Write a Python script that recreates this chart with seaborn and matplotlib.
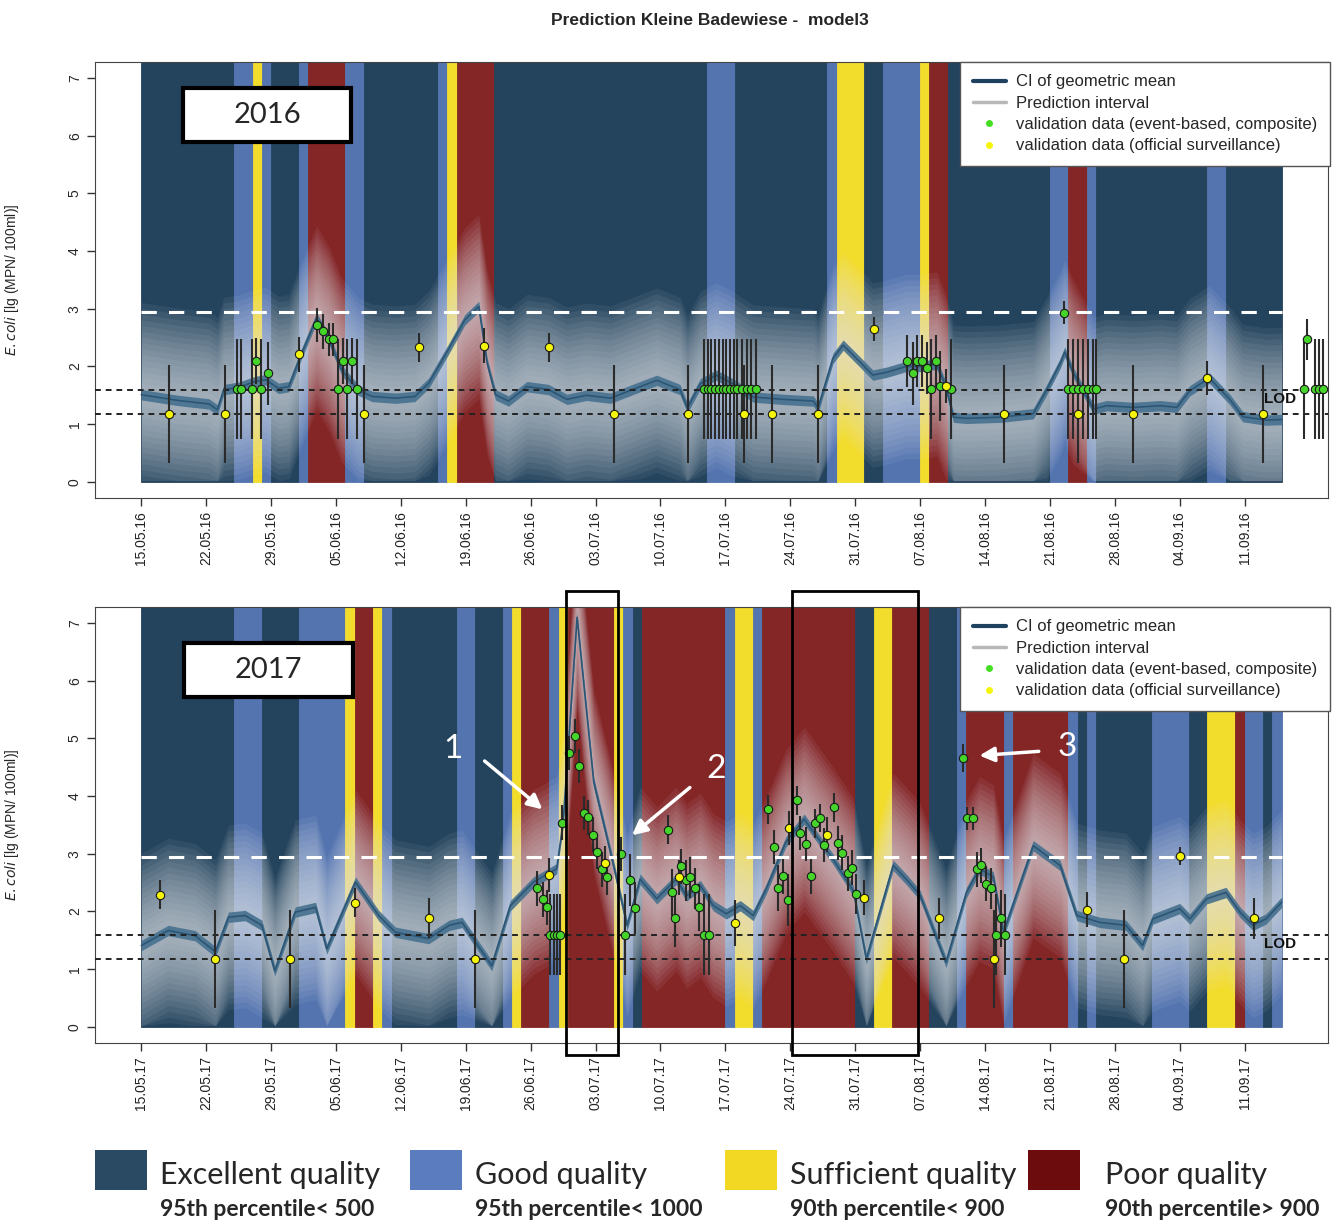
import numpy as np
import pandas as pd
import matplotlib
matplotlib.use("Agg")
import matplotlib.pyplot as plt
import seaborn as sns
from matplotlib.lines import Line2D
from matplotlib.patches import Rectangle

# ---------------- data (days counted from 15.05.) ----------------
# quality bands: start day of each run + class, last run ends at band_end
band_end = 123
band_start_2016 = [0, 10, 12, 13, 14, 17, 18, 22, 24, 32, 33, 34, 38, 61, 64, 74, 75, 78, 80, 84,
                   85, 87, 98, 100, 102, 103, 115, 117]
band_class_2016 = ["E", "G", "S", "G", "E", "G", "P", "G", "E", "G", "S", "P", "E", "G", "E", "G",
                   "S", "E", "G", "S", "P", "E", "G", "P", "G", "E", "G", "E"]
band_start_2017 = [0, 10, 13, 17, 22, 23, 25, 26, 27, 34, 36, 39, 40, 41, 44, 45, 46, 51, 52, 53,
                   54, 63, 64, 66, 67, 77, 79, 81, 85, 88, 89, 93, 94, 100, 101, 102, 103, 109,
                   113, 115, 118, 119, 121, 122]
band_class_2017 = ["E", "G", "E", "G", "S", "P", "S", "G", "E", "G", "E", "G", "S", "P", "G", "S",
                   "P", "S", "G", "E", "P", "G", "S", "G", "P", "E", "S", "P", "E", "G", "P", "G",
                   "P", "G", "E", "G", "E", "G", "E", "S", "P", "G", "E", "G"]

# geometric mean of the prediction (lg units)
mean_day_2016 = [0, 4, 7.3, 8.2, 8.9, 10.5, 12.3, 13.4, 14.8, 15.9, 17.3, 18.9, 20.2, 21.6, 23.4,
                 24.9, 27.4, 29.5, 31.0, 33.1, 34.9, 36.4, 37.3, 38.2, 39.6, 41.6, 43.9, 45.9, 48.0,
                 50.6, 53.8, 55.6, 58.1, 58.9, 60.3, 62.0, 63.8, 66.0, 69.2, 72.5, 73.0, 74.6, 75.7,
                 77.5, 78.9, 80.4, 82.5, 84.0, 85.8, 86.8, 87.6, 89.0, 92.6, 96.2, 97.6, 99.1, 99.6,
                 100.5, 102.7, 104.1, 107.0, 109.9, 111.7, 113.1, 115.2, 117.4, 118.8, 121.3, 123.0]
mean_val_2016 = [1.51, 1.41, 1.35, 1.25, 1.60, 1.64, 1.74, 1.77, 1.62, 1.65, 2.23, 2.84, 2.49, 1.94,
                 1.59, 1.48, 1.45, 1.48, 1.71, 2.29, 2.81, 3.04, 2.06, 1.51, 1.40, 1.65, 1.60, 1.43,
                 1.50, 1.45, 1.65, 1.76, 1.60, 1.28, 1.70, 1.85, 1.70, 1.47, 1.43, 1.40, 1.28, 2.14,
                 2.37, 2.08, 1.85, 1.90, 2.00, 2.00, 2.04, 1.64, 1.12, 1.10, 1.12, 1.18, 1.58, 2.05,
                 2.25, 1.90, 1.26, 1.32, 1.29, 1.32, 1.29, 1.58, 1.80, 1.43, 1.13, 1.07, 1.08]
mean_day_2017 = [0, 2.9, 5.8, 8.0, 9.4, 11.2, 13.0, 14.4, 16.6, 18.8, 20.0, 23.1, 25.6, 27.4, 31.0,
                 33.2, 34.6, 37.8, 39.8, 42.3, 44.8, 45.5, 47.0, 48.8, 50.6, 52.4, 53.8, 55.6, 57.7,
                 58.8, 60.3, 61.7, 63.1, 64.6, 66.0, 67.4, 69.5, 71.5, 74.6, 76.8, 78.2, 81.1, 82.5,
                 84.0, 86.8, 89.0, 90.4, 91.9, 93.0, 96.2, 99.1, 100.9, 103.4, 106.2, 108.0, 109.1,
                 112.0, 113.1, 114.9, 117.0, 118.5, 119.9, 121.3, 123.0]
mean_val_2017 = [1.41, 1.67, 1.58, 1.30, 1.90, 1.93, 1.76, 0.97, 1.99, 2.07, 1.35, 2.51, 1.93, 1.64,
                 1.53, 1.76, 1.81, 1.06, 2.10, 2.51, 2.74, 3.55, 7.10, 4.24, 3.03, 1.76, 2.56, 2.22,
                 2.56, 2.27, 2.45, 2.10, 1.96, 2.10, 1.93, 2.39, 3.20, 3.60, 2.91, 2.36, 1.18, 2.80,
                 2.56, 2.28, 1.12, 2.33, 2.74, 2.60, 1.64, 3.14, 2.80, 1.93, 1.81, 1.76, 1.41, 1.87,
                 2.05, 1.87, 2.22, 2.33, 1.99, 1.76, 1.87, 2.16]

# validation data (event-based, composite)
green_day_2016 = [10.3, 10.7, 11.9, 12.4, 12.9, 13.7, 18.9, 19.65, 20.2, 20.7, 21.2, 21.7, 22.2, 22.7,
                  23.3, 60.7, 61.1, 61.5, 61.9, 62.3, 62.7, 63.1, 63.5, 63.9, 64.3, 64.8, 65.3, 65.8,
                  66.3, 82.6, 83.25, 83.7, 84.2, 84.7, 85.2, 85.7, 86.2, 87.3, 99.5, 99.96, 100.5,
                  101.0, 101.6, 102.1, 102.6, 103.0, 125.4, 125.7, 126.6, 127.0, 127.5]
green_val_2016 = [1.61, 1.61, 1.61, 2.09, 1.61, 1.88, 2.72, 2.61, 2.47, 2.47, 1.61, 2.09, 1.61, 2.09,
                  1.61, 1.61, 1.61, 1.61, 1.61, 1.61, 1.61, 1.61, 1.61, 1.61, 1.61, 1.61, 1.61, 1.61,
                  1.61, 2.09, 1.88, 2.09, 2.09, 1.97, 1.61, 2.10, 1.66, 1.61, 2.93, 1.61, 1.61, 1.61,
                  1.61, 1.61, 1.61, 1.61, 1.61, 2.47, 1.61, 1.61, 1.61]
green_err_2016 = [0.87, 0.87, 0.87, 0.40, 0.87, 0.55, 0.30, 0.30, 0.28, 0.28, 0.87, 0.40, 0.87, 0.40,
                  0.87, 0.87, 0.87, 0.87, 0.87, 0.87, 0.87, 0.87, 0.87, 0.87, 0.87, 0.87, 0.87, 0.87,
                  0.87, 0.45, 0.55, 0.45, 0.45, 0.45, 0.87, 0.45, 0.60, 0.87, 0.20, 0.87, 0.87, 0.87,
                  0.87, 0.87, 0.87, 0.87, 0.87, 0.35, 0.87, 0.87, 0.87]
green_day_2017 = [42.65, 43.3, 43.8, 44.1, 44.5, 44.8, 45.2, 45.4, 46.1, 46.8, 47.2, 47.7, 48.2, 48.7,
                  49.2, 49.7, 50.2, 51.7, 52.2, 52.7, 53.2, 56.8, 57.2, 57.6, 58.2, 58.7, 59.2, 59.7,
                  60.2, 60.7, 61.2, 67.6, 68.2, 68.7, 69.2, 69.8, 70.7, 71.1, 71.7, 72.2, 72.7, 73.2,
                  73.6, 74.7, 75.2, 75.6, 76.2, 76.7, 77.1, 88.6, 89.1, 89.7, 90.1, 90.6, 91.1, 91.7,
                  92.2, 92.7, 93.2]
green_val_2017 = [2.40, 2.21, 2.07, 1.60, 1.60, 1.60, 1.60, 3.54, 4.75, 5.04, 4.52, 3.71, 3.63, 3.33,
                  3.03, 2.73, 2.59, 3.00, 1.60, 2.54, 2.06, 3.42, 2.33, 1.88, 2.78, 2.54, 2.59, 2.40,
                  2.07, 1.60, 1.60, 3.77, 3.12, 2.40, 2.61, 2.20, 3.93, 3.36, 3.17, 2.61, 3.53, 3.62,
                  3.15, 3.81, 3.19, 3.02, 2.66, 2.76, 2.30, 4.66, 3.62, 3.62, 2.73, 2.80, 2.48, 2.40,
                  1.60, 1.88, 1.60]
green_err_2017 = [0.30, 0.30, 0.30, 0.70, 0.70, 0.70, 0.70, 0.30, 0.30, 0.30, 0.30, 0.30, 0.30, 0.30,
                  0.30, 0.30, 0.30, 0.30, 0.70, 0.45, 0.45, 0.25, 0.40, 0.50, 0.30, 0.35, 0.35, 0.35,
                  0.40, 0.70, 0.70, 0.25, 0.30, 0.40, 0.30, 0.45, 0.25, 0.30, 0.30, 0.30, 0.25, 0.25,
                  0.30, 0.25, 0.30, 0.30, 0.30, 0.30, 0.35, 0.25, 0.20, 0.20, 0.30, 0.30, 0.30, 0.35,
                  0.70, 0.50, 0.70]

# validation data (official surveillance)
yellow_day_2016 = [3, 9, 17, 24, 30, 37, 44, 51, 59, 65, 68, 73, 79, 86.8, 93, 101, 107, 115, 121]
yellow_val_2016 = [1.17, 1.17, 2.21, 1.17, 2.33, 2.36, 2.33, 1.17, 1.17, 1.17, 1.17, 1.17, 2.65, 1.66,
                   1.17, 1.17, 1.17, 1.80, 1.17]
yellow_err_2016 = [0.85, 0.85, 0.30, 0.85, 0.25, 0.30, 0.25, 0.85, 0.85, 0.85, 0.85, 0.85, 0.20, 0.30,
                   0.85, 0.85, 0.85, 0.30, 0.85]
yellow_day_2017 = [2, 8, 16, 23, 31, 36, 44.0, 50.0, 58.0, 64.0, 69.9, 74.0, 78, 86, 92, 102, 106,
                   112, 120]
yellow_val_2017 = [2.29, 1.18, 1.18, 2.15, 1.89, 1.18, 2.63, 2.84, 2.59, 1.80, 3.45, 3.33, 2.24, 1.88,
                   1.17, 2.03, 1.17, 2.96, 1.88]
yellow_err_2017 = [0.25, 0.85, 0.85, 0.25, 0.35, 0.85, 0.30, 0.30, 0.30, 0.40, 0.30, 0.30, 0.30, 0.35,
                   0.85, 0.30, 0.85, 0.15, 0.35]

tick_labels_2016 = ["15.05.16", "22.05.16", "29.05.16", "05.06.16", "12.06.16", "19.06.16", "26.06.16",
                    "03.07.16", "10.07.16", "17.07.16", "24.07.16", "31.07.16", "07.08.16", "14.08.16",
                    "21.08.16", "28.08.16", "04.09.16", "11.09.16"]
tick_labels_2017 = [t[:-2] + "17" for t in tick_labels_2016]

lod_upper, lod_lower = 1.6, 1.18
poor_threshold = 2.95

legend_labels = ["CI of geometric mean", "Prediction interval",
                 "validation data (event-based, composite)",
                 "validation data (official surveillance)"]
quality_names = ["Excellent quality", "Good quality", "Sufficient quality", "Poor quality"]
quality_notes = ["95th percentile< 500", "95th percentile< 1000", "90th percentile< 900",
                 "90th percentile> 900"]

# ---------------- style ----------------
sns.set_style("ticks")
plt.rcParams['font.family'] = ['Liberation Sans', 'DejaVu Sans']

band_colors = {"E": "#24435d", "G": "#5474b0", "S": "#f2dc2c", "P": "#842526"}
legend_colors = ["#2a4a63", "#5b7dbf", "#f3d823", "#6d0c0c"]
YMIN, YMAX = -0.28, 7.28


def draw_panel(ax, starts, classes, mday, mval, gday, gval, gerr, yday, yval, yerr, labels,
               year, box_pos):
    ends = starts[1:] + [band_end]
    widths = [e - s for s, e in zip(starts, ends)]
    ax.bar(starts, YMAX, width=widths, bottom=0, align="edge",
           color=[band_colors[c] for c in classes],
           edgecolor=[band_colors[c] for c in classes], linewidth=0.6, zorder=0)

    mday = np.array(mday)
    mval = np.array(mval)
    # prediction interval: many thin translucent layers -> soft fuzzy band
    for hw in np.arange(1.6, 0.15, -0.1):
        ax.fill_between(mday, np.clip(mval - hw, 0.02, None), mval + hw,
                        color="#e6eaee", alpha=0.07, lw=0, zorder=1)
    # CI of geometric mean
    ax.fill_between(mday, mval - 0.09, mval + 0.09, color="#46718f", alpha=0.9, lw=0, zorder=2)
    sns.lineplot(x=mday, y=mval, ax=ax, color="#2c5676", lw=1.2, zorder=2)

    ax.hlines(poor_threshold, starts[0], band_end, colors="white", linestyles=(0, (5, 4)),
              lw=2.2, zorder=3)
    ax.axhline(lod_upper, color="#222222", ls=(0, (3, 2.5)), lw=1.4, zorder=3)
    ax.axhline(lod_lower, color="#222222", ls=(0, (3, 2.5)), lw=1.4, zorder=3)
    ax.text(band_end - 0.2, (lod_upper + lod_lower) / 2 + 0.05, "LOD", fontsize=11,
            fontweight="bold", color="#111111", ha="center", va="center", zorder=4)

    gday, gval, gerr = map(np.array, (gday, gval, gerr))
    yday, yval, yerr = map(np.array, (yday, yval, yerr))
    ax.vlines(gday, gval - gerr, gval + gerr, color="#2b2b2b", lw=1.5, zorder=4)
    ax.vlines(yday, yval - yerr, yval + yerr, color="#2b2b2b", lw=1.5, zorder=4)
    sns.scatterplot(x=gday, y=gval, ax=ax, color="#45d42a", edgecolor="#1a1a1a", s=36,
                    linewidth=0.8, zorder=5)
    sns.scatterplot(x=yday, y=yval, ax=ax, color="#f5f50a", edgecolor="#1a1a1a", s=36,
                    linewidth=0.8, zorder=5)

    ax.set_xlim(-5, 128)
    ax.set_ylim(YMIN, YMAX)
    ax.set_xticks(np.arange(0, 7 * len(labels), 7))
    ax.set_xticklabels(labels, rotation=90, fontsize=10, color="#222222")
    ax.set_yticks(range(8))
    ax.set_yticklabels([str(i) for i in range(8)], rotation=90, va="center", fontsize=10)
    ax.tick_params(axis="both", length=6, width=1, color="#333333")
    ax.set_xlabel("")
    ax.set_ylabel(r"$\mathit{E.coli}$ [lg (MPN/ 100ml)]", fontsize=10)
    ax.yaxis.set_label_coords(-0.06, 0.5)
    for sp in ax.spines.values():
        sp.set_color("#444444")

    # year box
    bx, by, bw, bh = box_pos
    ax.add_patch(Rectangle((bx, by), bw, bh, transform=ax.transAxes, fc="white", ec="black",
                           lw=3, zorder=10))
    ax.text(bx + bw / 2, by + bh / 2, year, transform=ax.transAxes, ha="center", va="center",
            fontsize=21, family="Lato", zorder=11)

    handles = [Line2D([], [], color="#1f4160", lw=3),
               Line2D([], [], color="#b8b8b8", lw=2.5),
               Line2D([], [], marker="o", ls="", markerfacecolor="#44dd22",
                      markeredgecolor="none", ms=5),
               Line2D([], [], marker="o", ls="", markerfacecolor="#f5f50a",
                      markeredgecolor="none", ms=5)]
    leg = ax.legend(handles, legend_labels, loc="upper right", bbox_to_anchor=(1.0015, 1.0),
                    borderaxespad=0, frameon=True, fancybox=False, framealpha=1,
                    edgecolor="#555555", fontsize=12, labelspacing=0.38, handlelength=2.0,
                    handletextpad=0.6, borderpad=0.75)
    leg.set_zorder(12)


fig = plt.figure(figsize=(13.32, 12.22), dpi=100)
ax1 = fig.add_axes([0.0713, 0.5925, 0.9257, 0.3568])
ax2 = fig.add_axes([0.0713, 0.1465, 0.9257, 0.3568])

draw_panel(ax1, band_start_2016, band_class_2016, mean_day_2016, mean_val_2016,
           green_day_2016, green_val_2016, green_err_2016,
           yellow_day_2016, yellow_val_2016, yellow_err_2016, tick_labels_2016,
           "2016", (0.0714, 0.8165, 0.1362, 0.1239))
draw_panel(ax2, band_start_2017, band_class_2017, mean_day_2017, mean_val_2017,
           green_day_2017, green_val_2017, green_err_2017,
           yellow_day_2017, yellow_val_2017, yellow_err_2017, tick_labels_2017,
           "2017", (0.0722, 0.794, 0.137, 0.123))

# highlighted periods in 2017
for x0, x1 in [(45.8, 51.4), (70.2, 83.8)]:
    ax2.add_patch(Rectangle((x0, -0.49), x1 - x0, 8.05, fill=False, ec="black", lw=2,
                            clip_on=False, zorder=9))

arrow_kw = dict(arrowstyle="-|>", color="white", lw=2.5, mutation_scale=22)
for num, txt_xy, start, end in [("1", (33.6, 4.82), (36.8, 4.64), (43.5, 3.74)),
                                ("2", (62.0, 4.47), (59.4, 4.18), (52.7, 3.29)),
                                ("3", (99.9, 4.85), (97.1, 4.78), (90.1, 4.70))]:
    ax2.annotate("", xy=end, xytext=start, arrowprops=arrow_kw, zorder=8)
    ax2.text(*txt_xy, num, color="white", fontsize=24, family="Lato", ha="center",
             va="center", zorder=8)

fig.text(0.533, 0.9836, "Prediction Kleine Badewiese -  model3", ha="center", va="center",
         fontsize=12.5, fontweight="bold")

# quality legend at the bottom
sq_x = [95, 410, 725, 1028]
txt_x = [160, 475, 790, 1105]
W, H = 1332, 1222
for col, name, note, sx, tx in zip(legend_colors, quality_names, quality_notes, sq_x, txt_x):
    fig.add_artist(Rectangle((sx / W, 1 - 1190 / H), 52 / W, 40 / H, transform=fig.transFigure,
                             fc=col, ec="none"))
    fig.text(tx / W, 1 - 1175 / H, name, fontsize=22, family="Lato", va="center", ha="left")
    fig.text(tx / W, 1 - 1210 / H, note, fontsize=16.5, family="Lato", fontweight="bold",
             va="center", ha="left")

fig.savefig("out.png", dpi=100)
